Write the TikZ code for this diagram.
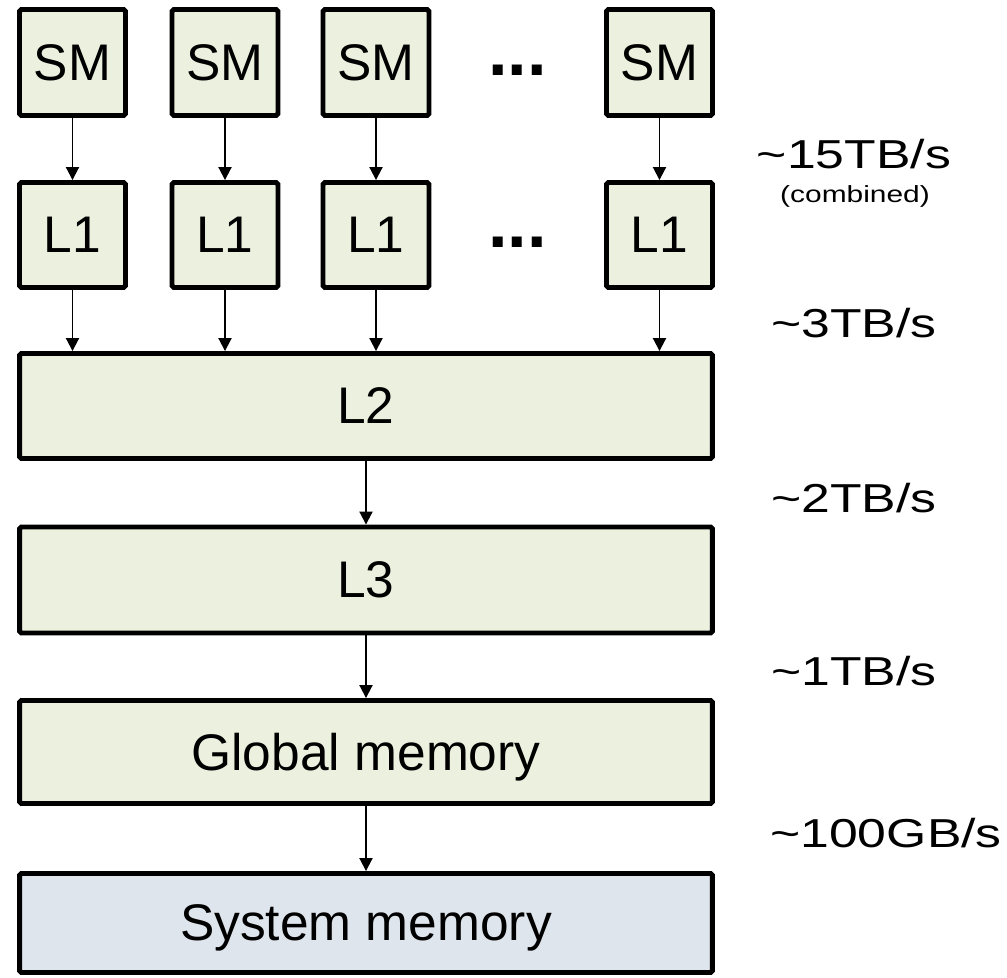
\documentclass[tikz,border=0pt]{standalone}
\usepackage{fontspec}
\setmainfont{Liberation Sans}
\newfontfamily\ratefont[FakeStretch=1.28]{Liberation Sans}
\usetikzlibrary{arrows.meta}

\definecolor{cachegreen}{HTML}{EBF1DE}
\definecolor{sysgray}{HTML}{DFE5EC}

\tikzset{
    membox/.style={draw, line width=2.8pt, fill=cachegreen, rounded corners=1pt,
        inner sep=0pt, text depth=0pt, font=\fontsize{29.3}{35}\selectfont},
    link/.style={-{Triangle[length=0.26cm, width=0.26cm]}, line width=1.1pt},
    rate/.style={anchor=base, font=\ratefont\fontsize{23}{28}\selectfont},
    dotrow/.style={anchor=base, font=\fontsize{40}{40}\selectfont\bfseries},
}

\begin{document}
\begin{tikzpicture}[x=0.02cm, y=-0.02cm]
    \useasboundingbox (0,0) rectangle (1007,977);

    %% Memory levels
    % L2, L3, global and system memory
    \node[membox, minimum width=13.86cm, minimum height=2.1cm] (ltwo) at (366,406) {L2};
    \node[membox, minimum width=13.86cm, minimum height=2.12cm] (lthree) at (366,580) {L3};
    \node[membox, minimum width=13.86cm, minimum height=2.06cm] (global) at (366,752) {Global memory};
    \node[membox, fill=sysgray, minimum width=13.86cm, minimum height=1.98cm] (sysmem) at (366,923) {System memory};

    % SM and L1 columns
    \foreach \i/\x in {1/72.5, 2/225, 3/376, 4/659.5} {
        \node[membox, minimum width=2.12cm, minimum height=2.12cm] (sm\i) at (\x,62.5) {SM};
        \node[membox, minimum width=2.12cm, minimum height=2.1cm] (lone\i) at (\x,235) {L1};
        \draw[link] (sm\i) -- (lone\i);
        \draw[link] (lone\i.south) -- (lone\i.south |- ltwo.north);
    }

    % Ellipsis between the columns
    \node[dotrow] (smdots) at (517.5,75) {...};
    \node[dotrow] (lonedots) at (517.5,247) {...};

    % Links down the hierarchy
    \draw[link] (ltwo) -- (lthree);
    \draw[link] (lthree) -- (global);
    \draw[link] (global) -- (sysmem);

    %% Bandwidths
    \node[rate] (bwsm) at (854,168) {\textasciitilde15TB/s};
    \node[rate, font=\ratefont\fontsize{13.3}{16}\selectfont] (bwnote) at (855,202) {(combined)};
    \node[rate] (bwltwo) at (854,337) {\textasciitilde3TB/s};
    \node[rate] (bwlthree) at (854,512) {\textasciitilde2TB/s};
    \node[rate] (bwglobal) at (854,685) {\textasciitilde1TB/s};
    \node[rate] (bwsys) at (886,847) {\textasciitilde100GB/s};

\end{tikzpicture}
\end{document}
